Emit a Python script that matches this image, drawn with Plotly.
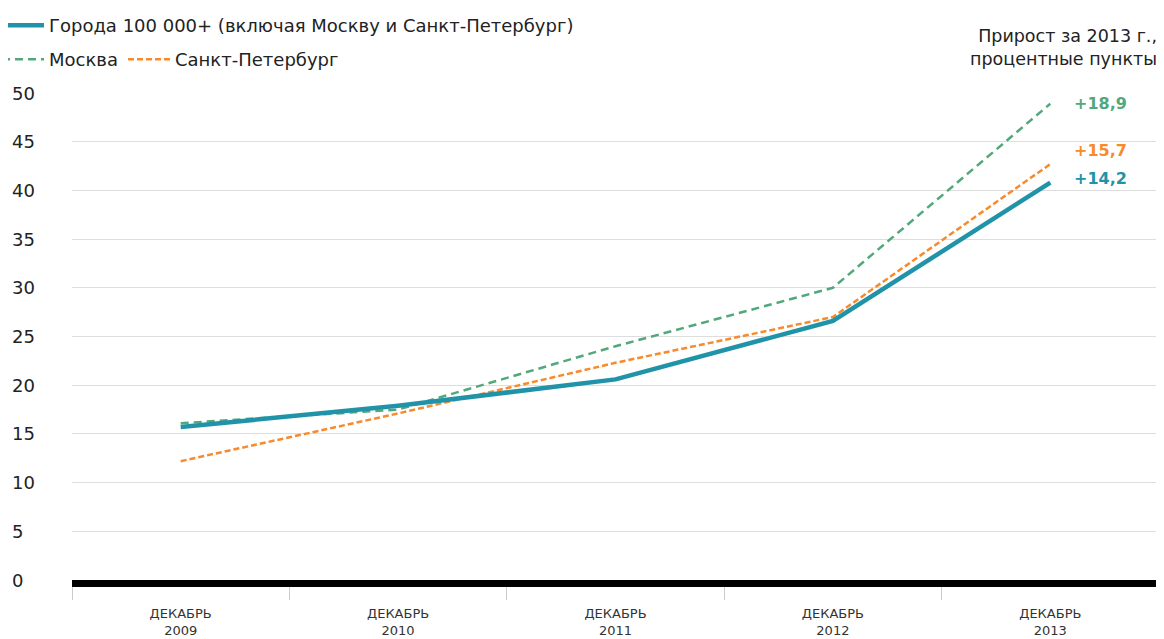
import plotly.graph_objects as go

categories = ["ДЕКАБРЬ<br>2009", "ДЕКАБРЬ<br>2010", "ДЕКАБРЬ<br>2011", "ДЕКАБРЬ<br>2012", "ДЕКАБРЬ<br>2013"]
cities = [15.7, 17.9, 20.6, 26.6, 40.8]
moscow = [16.1, 17.5, 24.0, 30.0, 48.9]
spb = [12.2, 17.1, 22.3, 27.0, 42.7]
gains = ["+18,9", "+15,7", "+14,2"]
y_ticks = [0, 5, 10, 15, 20, 25, 30, 35, 40, 45, 50]

BLUE = "#2193a9"
GREEN = "#52a87a"
ORANGE = "#f78a2c"
FONT = "DejaVu Sans"

# plot area (figure px): left 64, right 1151, top 85, bottom 572
PW, PH, PL, PB = 1087.0, 487.0, 64.0, 572.0


def px(xf):
    return (xf - PL) / PW


def py(yf):
    return (PB - yf) / PH


fig = go.Figure()
fig.add_trace(go.Scatter(x=categories, y=moscow, mode="lines", name="Москва",
                         line=dict(color=GREEN, width=2.5, dash="8px,5px"), legend="legend2"))
fig.add_trace(go.Scatter(x=categories, y=spb, mode="lines", name="Санкт-Петербург",
                         line=dict(color=ORANGE, width=2.5, dash="6px,3px"), legend="legend3"))
fig.add_trace(go.Scatter(x=categories, y=cities, mode="lines",
                         name="Города 100 000+ (включая Москву и Санкт-Петербург)",
                         line=dict(color=BLUE, width=4.5), legend="legend"))

annotations = []
for v in y_ticks:
    annotations.append(dict(xref="paper", yref="y", x=px(2), y=v, text=str(v),
                            showarrow=False, xanchor="left", yanchor="middle",
                            font=dict(family=FONT, size=18, color="#222")))

last = categories[-1]
for txt, val, col, ysh in [(gains[0], moscow[-1], GREEN, 0),
                           (gains[1], spb[-1], ORANGE, 14),
                           (gains[2], cities[-1], BLUE, 4)]:
    annotations.append(dict(xref="x", yref="y", x=last, y=val, text="<b>" + txt + "</b>",
                            showarrow=False, xanchor="left", yanchor="middle", xshift=22, yshift=ysh,
                            font=dict(family=FONT, size=16, color=col)))

annotations.append(dict(xref="paper", yref="paper", x=1.0, y=py(16),
                        text="Прирост за 2013 г.,<br>процентные пункты", showarrow=False,
                        xanchor="right", yanchor="top", align="right",
                        font=dict(family=FONT, size=17.5, color="#222")))

legend_common = dict(xref="paper", yref="paper", xanchor="left", yanchor="top",
                     orientation="h", font=dict(family=FONT, size=18, color="#222"),
                     itemwidth=42, bgcolor="rgba(0,0,0,0)")

fig.update_layout(
    width=1164, height=639,
    margin=dict(l=64, r=13, t=85, b=67, autoexpand=False),
    paper_bgcolor="white", plot_bgcolor="white",
    font=dict(family=FONT, size=18, color="#222"),
    showlegend=True,
    annotations=annotations,
    legend=dict(x=px(-11), y=py(-1), **legend_common),
    legend2=dict(x=px(-11), y=py(33), **legend_common),
    legend3=dict(x=px(115), y=py(33), **legend_common),
    xaxis=dict(type="category", tickson="boundaries", ticks="outside", ticklen=13,
               tickcolor="#cccccc", tickwidth=1, showgrid=False,
               showline=True, linecolor="black", linewidth=7,
               tickfont=dict(family=FONT, size=13, color="#333"),
               ticklabelstandoff=15,
               range=[-0.5, 4.5], automargin=False),
    yaxis=dict(range=[0, 50], tickvals=y_ticks, showticklabels=False,
               showgrid=True, gridcolor="#dddddd", gridwidth=1, zeroline=False, automargin=False),
)

fig.write_html("out.html")
